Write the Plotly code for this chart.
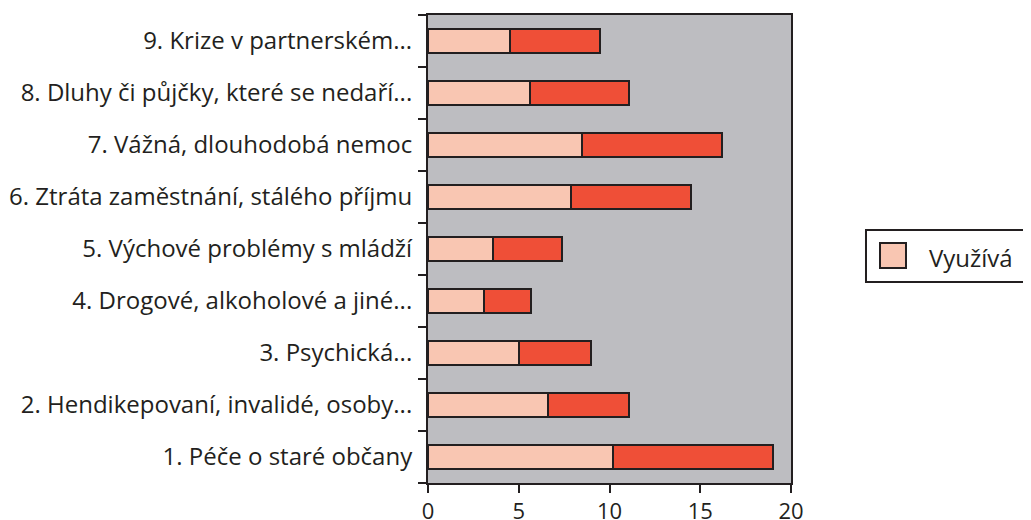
import plotly.graph_objects as go

categories = [
    "1. Péče o staré občany",
    "2. Hendikepovaní, invalidé, osoby...",
    "3. Psychická...",
    "4. Drogové, alkoholové a jiné...",
    "5. Výchové problémy s mládží",
    "6. Ztráta zaměstnání, stálého příjmu",
    "7. Vážná, dlouhodobá nemoc",
    "8. Dluhy či půjčky, které se nedaří...",
    "9. Krize v partnerském...",
]
vyuziva = [10.2, 6.6, 5.0, 3.1, 3.6, 7.9, 8.5, 5.6, 4.5]
ostatni = [8.8, 4.5, 4.0, 2.6, 3.8, 6.6, 7.7, 5.5, 5.0]
x_ticks = [0, 5, 10, 15, 20]
legend_label = "Využívá"

edge = "#231F20"
light = "#F9C6B2"
red = "#EF4F37"
fig = go.Figure()
fig.add_trace(go.Bar(
    y=categories, x=vyuziva, orientation="h", name=legend_label, showlegend=False,
    marker=dict(color=light, line=dict(color=edge, width=2)),
))
fig.add_trace(go.Bar(
    y=categories, x=ostatni, orientation="h", name="Nevyužívá", showlegend=False,
    marker=dict(color=red, line=dict(color=edge, width=2)),
))

# legend drawn manually (box, swatch, text)
fig.add_shape(type="rect", xref="paper", yref="paper",
              x0=1.2066, x1=1.68, y0=0.4295, y1=0.5406,
              line=dict(color=edge, width=2), fillcolor="white", layer="above")
fig.add_shape(type="rect", xref="paper", yref="paper",
              x0=1.2452, x1=1.3168, y0=0.4594, y1=0.5128,
              line=dict(color=edge, width=2), fillcolor=light, layer="above")
fig.add_annotation(xref="paper", yref="paper", x=1.3747, y=0.4829,
                   xanchor="left", yanchor="middle", showarrow=False,
                   text=legend_label, font=dict(size=24, color=edge))

font = "Open Sans, Noto Sans, sans-serif"
fig.update_layout(
    barmode="stack",
    bargap=0.53,
    showlegend=False,
    width=1023, height=512,
    margin=dict(l=420, r=240, t=7, b=37),
    plot_bgcolor="#BDBDC1",
    paper_bgcolor="white",
    font=dict(family=font, size=24, color=edge),
    xaxis=dict(
        range=[0, 20], tickvals=x_ticks, showgrid=False, zeroline=False,
        showline=True, linecolor=edge, linewidth=2, mirror=True,
        ticks="outside", ticklen=8, tickwidth=2, tickcolor=edge,
        tickfont=dict(size=22), automargin=False,
    ),
    yaxis=dict(
        showgrid=False, zeroline=False,
        showline=True, linecolor=edge, linewidth=2, mirror=True,
        ticks="outside", ticklen=8, tickwidth=2, tickcolor=edge,
        tickson="boundaries", ticklabelstandoff=9, automargin=False,
    ),
)
fig.write_html("out.html")
